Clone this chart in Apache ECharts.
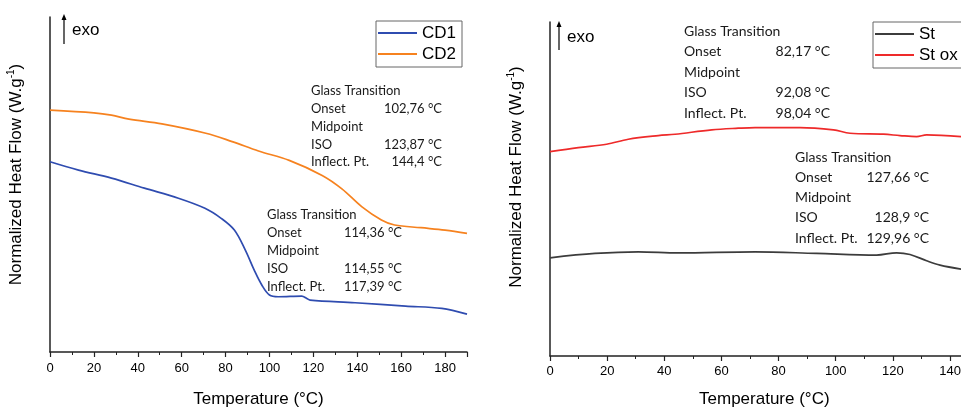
<!DOCTYPE html>
<html>
<head>
<meta charset="utf-8">
<script src="https://cdn.jsdelivr.net/npm/echarts@6/dist/echarts.min.js"></script>
<style>html,body{margin:0;padding:0;background:#fff}#c{width:961px;height:408px}</style>
</head>
<body>
<div id="c"></div>
<script>
// ---- data (temperature in °C, normalized heat flow in arbitrary units 0-100) ----
var cd1Temp = [0, 13, 28, 43, 58.5, 70.6, 78, 84, 89, 93, 96.5, 100, 104, 114.7, 117, 118.5, 139, 162, 178.5, 190];
var cd1Flow = [56.8, 54.3, 51.9, 48.9, 45.9, 42.9, 39.9, 36.4, 30.4, 24.5, 20.0, 17.0, 16.5, 16.7, 16.0, 15.5, 14.7, 13.7, 13.0, 11.3];
var cd2Temp = [0, 20, 28, 36, 51, 71, 83, 95, 109, 124, 133, 142, 151, 157, 169, 180, 190];
var cd2Flow = [72.2, 71.4, 70.7, 69.5, 68.1, 65.3, 62.8, 60.0, 57.2, 52.7, 48.7, 43.4, 39.4, 37.9, 37.1, 36.4, 35.4];
var stTemp = [0, 15.75, 30.9, 44.9, 71.75, 93.3, 114.3, 121.3, 126, 131.8, 136.5, 143.9];
var stFlow = [29.4, 30.7, 31.2, 30.9, 31.2, 30.7, 30.2, 30.9, 30.4, 28.5, 27.2, 26.0];
var stOxTemp = [0, 9.9, 19.8, 27.4, 37.9, 43.75, 56.6, 65.9, 71.75, 87.5, 99.2, 105, 116.7, 122.5, 128.3, 131.8, 143.9];
var stOxFlow = [61.2, 62.4, 63.4, 64.9, 66.0, 66.4, 67.7, 68.2, 68.4, 68.4, 67.7, 66.7, 66.4, 66.0, 65.7, 66.2, 65.7];

var xTicksLeftMax = 190, xTicksRightMax = 150, xInterval = 20;
var seriesNamesLeft = ['CD1', 'CD2'];
var seriesNamesRight = ['St', 'St ox'];
var yTitle = ['Normalized Heat Flow (W.g', '-1', ')'];
var xTitle = 'Temperature (°C)';

var annLabels = ['Glass Transition', 'Onset', 'Midpoint', 'ISO', 'Inflect. Pt.'];
var annCD2 = ['', '102,76 °C', '', '123,87 °C', '144,4 °C'];
var annCD1 = ['', '114,36 °C', '', '114,55 °C', '117,39 °C'];
var annStOx = ['', '82,17 °C', '', '92,08 °C', '98,04 °C'];
var annSt = ['', '127,66 °C', '', '128,9 °C', '129,96 °C'];

function pairs(xs, ys) { return xs.map(function (x, i) { return [x, ys[i]]; }); }

var axisFont = 'Liberation Sans, Arial, sans-serif';
var annFont = 'Lato, sans-serif';

function makeX(gi, max, labelMargin, nameGap) {
  return {
    type: 'value', gridIndex: gi, min: 0, max: max, interval: xInterval,
    name: xTitle, nameLocation: 'middle', nameGap: nameGap,
    nameTextStyle: { fontFamily: axisFont, fontSize: 17, color: '#000' },
    axisLine: { show: true, onZero: false, lineStyle: { color: '#222', width: 1.5 } },
    axisTick: { show: true, length: 5, inside: false, lineStyle: { color: '#222', width: 1.2 } },
    minorTick: { show: true, splitNumber: 2, length: 3, lineStyle: { color: '#222', width: 1 } },
    axisLabel: { fontFamily: axisFont, fontSize: 13, color: '#000', margin: labelMargin, showMaxLabel: false, hideOverlap: false },
    splitLine: { show: false }
  };
}
function makeY(gi, nameGap, shift) {
  return {
    type: 'value', gridIndex: gi, min: 0, max: 100,
    name: '{a|' + yTitle[0] + '}{s|' + yTitle[1] + '}{a|' + yTitle[2] + '}',
    nameLocation: 'middle', nameGap: nameGap,
    nameTextStyle: {
      padding: [0, 0, 0, shift],
      rich: {
        a: { fontFamily: axisFont, fontSize: 17, color: '#000', lineHeight: 20 },
        s: { fontFamily: axisFont, fontSize: 10, color: '#000', verticalAlign: 'top', lineHeight: 20 }
      }
    },
    axisLine: { show: true, lineStyle: { color: '#222', width: 1.5 } },
    axisTick: { show: false }, axisLabel: { show: false }, splitLine: { show: false }
  };
}
function line(name, xi, data, color) {
  return {
    name: name, type: 'line', xAxisIndex: xi, yAxisIndex: xi, data: data,
    showSymbol: false, smooth: 0.35,
    lineStyle: { color: color, width: 1.7 }, itemStyle: { color: color }
  };
}
function legend(names, left, top, padRight) {
  return {
    data: names, left: left, top: top, orient: 'vertical',
    borderColor: '#666', borderWidth: 1, padding: [2, padRight, 3, 2], itemGap: 1,
    itemWidth: 39, itemHeight: 2, icon: 'rect',
    textStyle: { fontFamily: axisFont, fontSize: 17, color: '#000', lineHeight: 20 }
  };
}
function annotation(labelX, valueX, topY, rowH, values, size) {
  var els = [];
  annLabels.forEach(function (t, i) {
    els.push({ type: 'text', silent: true, style: { text: t, x: labelX, y: topY + i * rowH, font: size + 'px ' + annFont, fill: '#1a1a1a', textAlign: 'left', textVerticalAlign: 'middle' } });
    if (values[i]) {
      els.push({ type: 'text', silent: true, style: { text: values[i], x: valueX, y: topY + i * rowH, font: size + 'px ' + annFont, fill: '#1a1a1a', textAlign: 'right', textVerticalAlign: 'middle' } });
    }
  });
  return els;
}
function exo(x, yTop, yBot) {
  return [
    { type: 'line', silent: true, shape: { x1: x, y1: yBot, x2: x, y2: yTop + 4 }, style: { stroke: '#000', lineWidth: 1.2 } },
    { type: 'polygon', silent: true, shape: { points: [[x - 2.5, yTop + 6], [x + 2.5, yTop + 6], [x, yTop]] }, style: { fill: '#000' } },
    { type: 'text', silent: true, style: { text: 'exo', x: x + 8, y: yTop + 16, font: '17px ' + axisFont, fill: '#000', textAlign: 'left', textVerticalAlign: 'middle' } }
  ];
}

var chart = echarts.init(document.getElementById('c'), null, { renderer: 'canvas' });
var graphics = [].concat(
  annotation(311, 442, 91, 17.8, annCD2, 13),
  annotation(267, 402, 215, 18, annCD1, 13),
  annotation(684, 830, 31, 20.6, annStOx, 14),
  annotation(795, 929, 157, 20.3, annSt, 14),
  exo(64, 14, 44),
  exo(559, 21, 50)
);
chart.setOption({
  animation: false,
  backgroundColor: '#fff',
  grid: [
    { left: 50, top: 17, width: 417, height: 335, outerBoundsMode: 'none', containLabel: false },
    { left: 550, top: 22, width: 428.6, height: 334, outerBoundsMode: 'none', containLabel: false }
  ],
  xAxis: [makeX(0, xTicksLeftMax, 10, 39), makeX(1, xTicksRightMax, 9, 35)],
  yAxis: [makeY(0, 24, 20), makeY(1, 24, 24)],
  legend: [legend(seriesNamesLeft, 376, 21, 6), legend(seriesNamesRight, 873, 22, 12)],
  series: [
    line('CD1', 0, pairs(cd1Temp, cd1Flow), '#2f4cb0'),
    line('CD2', 0, pairs(cd2Temp, cd2Flow), '#f6821f'),
    line('St', 1, pairs(stTemp, stFlow), '#3c3c3c'),
    line('St ox', 1, pairs(stOxTemp, stOxFlow), '#ee2a2a')
  ],
  graphic: { elements: graphics }
});
</script>
</body>
</html>
